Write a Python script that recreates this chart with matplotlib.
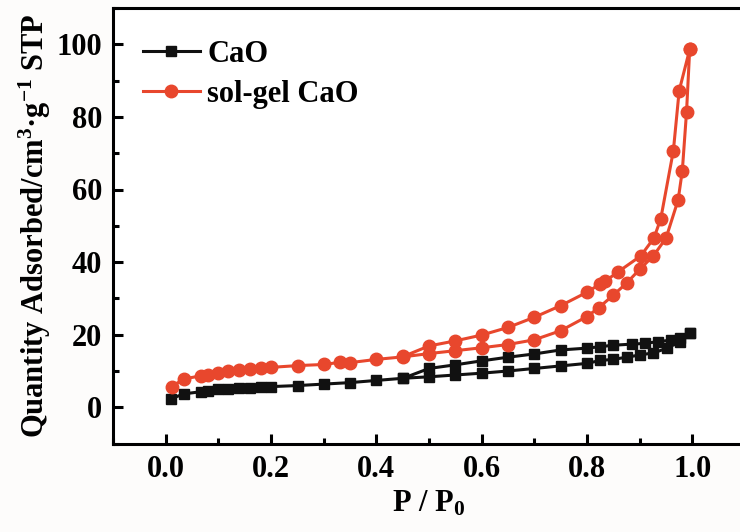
import matplotlib
matplotlib.use("Agg")
import matplotlib.pyplot as plt
from matplotlib.ticker import MultipleLocator

# CaO (black squares): adsorption branch then desorption branch
cao_ads_p = [0.010, 0.034, 0.068, 0.080, 0.099, 0.119, 0.140, 0.161, 0.181, 0.200,
             0.252, 0.301, 0.350, 0.400, 0.451, 0.500, 0.550, 0.600, 0.650, 0.700,
             0.750, 0.800, 0.825, 0.850, 0.875, 0.900, 0.926, 0.951, 0.976, 0.995]
cao_ads_q = [2.3, 3.7, 4.3, 4.6, 4.95, 5.1, 5.2, 5.4, 5.5, 5.7,
             6.0, 6.4, 6.8, 7.4, 8.0, 8.4, 8.9, 9.4, 10.0, 10.7,
             11.4, 12.1, 12.9, 13.2, 13.8, 14.4, 15.0, 16.2, 18.1, 20.4]
cao_des_p = [0.995, 0.976, 0.960, 0.935, 0.910, 0.885, 0.850, 0.825, 0.800, 0.750,
             0.700, 0.650, 0.600, 0.550, 0.500, 0.451]
cao_des_q = [20.4, 19.2, 18.5, 18.1, 17.6, 17.4, 17.1, 16.7, 16.3, 15.8,
             14.7, 13.8, 12.8, 11.7, 10.7, 8.0]

# sol-gel CaO (red circles)
sg_ads_p = [0.012, 0.034, 0.068, 0.080, 0.099, 0.119, 0.140, 0.161, 0.181, 0.200,
            0.252, 0.301, 0.331, 0.350, 0.400, 0.451, 0.500, 0.550, 0.600, 0.650,
            0.700, 0.750, 0.800, 0.822, 0.850, 0.875, 0.900, 0.926, 0.950, 0.973,
            0.981, 0.989, 0.995]
sg_ads_q = [5.7, 7.8, 8.7, 9.0, 9.5, 10.0, 10.3, 10.5, 10.7, 11.0,
            11.5, 11.8, 12.4, 12.3, 13.2, 13.9, 14.8, 15.6, 16.4, 17.3,
            18.6, 21.1, 25.0, 27.4, 30.9, 34.2, 38.0, 41.7, 46.6, 57.1,
            65.2, 81.4, 98.6]
sg_des_p = [0.995, 0.975, 0.964, 0.940, 0.927, 0.902, 0.858, 0.835, 0.825, 0.800,
            0.750, 0.700, 0.650, 0.600, 0.550, 0.500, 0.451]
sg_des_q = [98.6, 87.2, 70.7, 51.9, 46.6, 41.7, 37.2, 34.8, 34.0, 31.7,
            28.0, 24.8, 22.0, 19.9, 18.3, 16.9, 14.0]

x_ticks = [0.0, 0.2, 0.4, 0.6, 0.8, 1.0]
y_ticks = [0, 20, 40, 60, 80, 100]

plt.rcParams['font.family'] = ['Liberation Serif', 'DejaVu Serif']
plt.rcParams['font.weight'] = 'bold'
plt.rcParams['mathtext.fontset'] = 'custom'
plt.rcParams['mathtext.rm'] = 'Liberation Serif:bold'
plt.rcParams['mathtext.it'] = 'Liberation Serif:bold'
plt.rcParams['mathtext.bf'] = 'Liberation Serif:bold'

FS = 22

fig = plt.figure(figsize=(7.40, 5.32), dpi=100)
ax = fig.add_axes([113/740, (532-443.6)/532, 632/740, 435.6/532])

black = '#111111'
red = '#E8472D'

ax.plot(cao_ads_p + cao_des_p, cao_ads_q + cao_des_q, color=black, lw=2.2,
        marker='s', ms=7.5, mec=black, mfc=black, label='CaO')
ax.plot(sg_ads_p + sg_des_p, sg_ads_q + sg_des_q, color=red, lw=2.2,
        marker='o', ms=9, mec=red, mfc=red, label='sol-gel CaO')

ax.set_xlim(-0.1, 1.1)
ax.set_ylim(-10, 110)
ax.set_xticks(x_ticks)
ax.set_xticklabels([f'{v:.1f}' for v in x_ticks])
ax.set_yticks(y_ticks)
ax.xaxis.set_minor_locator(MultipleLocator(0.1))
ax.yaxis.set_minor_locator(MultipleLocator(10))

for s in ['left', 'bottom', 'top']:
    ax.spines[s].set_linewidth(2.2)
ax.spines['right'].set_visible(False)
ax.tick_params(which='major', direction='in', length=7, width=2.2,
               labelsize=FS, pad=8, top=False, right=False)
ax.tick_params(which='minor', direction='in', length=4, width=2.2,
               top=False, right=False)
for lab in ax.get_xticklabels() + ax.get_yticklabels():
    lab.set_fontweight('bold')

ax.set_xlabel('P / P$_0$', fontsize=FS, fontweight='bold', labelpad=4)
ax.set_ylabel('Quantity Adsorbed/cm$^3$·g$^{-1}$ STP', fontsize=FS,
              fontweight='bold', labelpad=2)

leg = ax.legend(loc='upper left', frameon=False, fontsize=FS, handlelength=1.85,
                handletextpad=0.25, borderaxespad=0.5, labelspacing=0.35,
                bbox_to_anchor=(0.004, 0.99))
for t in leg.get_texts():
    t.set_fontweight('bold')

fig.savefig('out.png', dpi=100, facecolor='#FDFCFB')
